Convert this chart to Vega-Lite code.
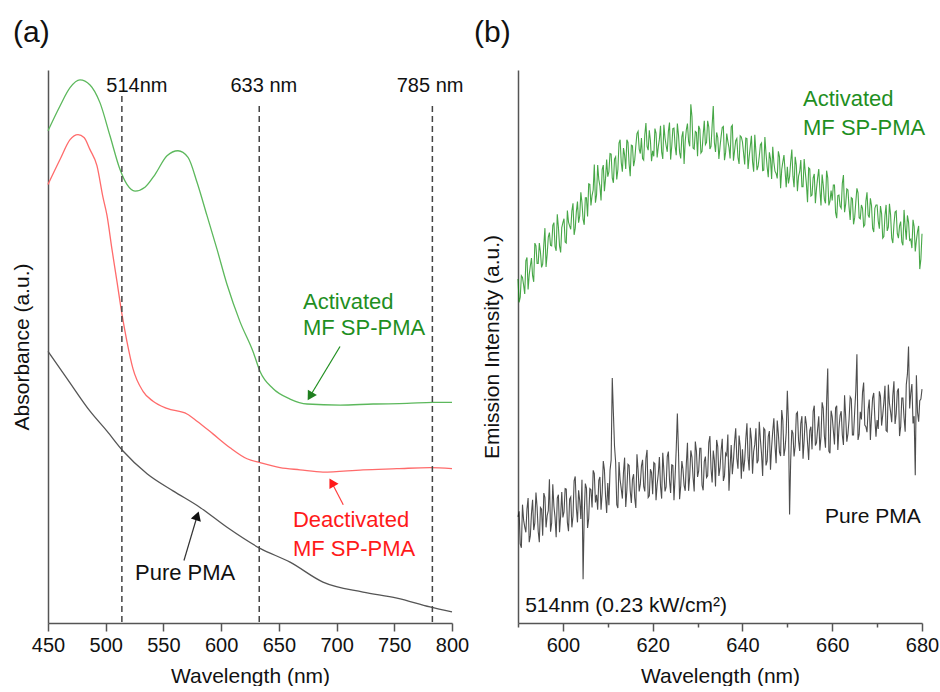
{
  "$schema": "https://vega.github.io/schema/vega-lite/v6.json",
  "padding": {"left": 11, "top": 18, "right": 5, "bottom": 0},
  "spacing": 5,
  "config": {
    "font": "Liberation Sans",
    "view": {"stroke": null},
    "axis": {
      "domainColor": "#555555", "domainWidth": 1.5, "tickColor": "#555555", "tickWidth": 1.5,
      "labelFontSize": 20, "labelColor": "#111111", "titleFontSize": 21, "titleFontWeight": "normal",
      "titleColor": "#111111", "grid": false, "labelFlush": false, "labelOverlap": false
    }
  },
  "datasets": {
    "abs": [
      {"wl":450,"a":89.0,"s":"Activated"},{"wl":460.4,"a":93.5,"s":"Activated"},{"wl":469.1,"a":96.8,"s":"Activated"},{"wl":477.7,"a":98.2,"s":"Activated"},{"wl":486.4,"a":97.3,"s":"Activated"},{"wl":495.0,"a":94.1,"s":"Activated"},{"wl":503.7,"a":88.1,"s":"Activated"},{"wl":512.4,"a":82.0,"s":"Activated"},{"wl":518.4,"a":79.3,"s":"Activated"},{"wl":525.4,"a":78.1,"s":"Activated"},{"wl":534.0,"a":78.8,"s":"Activated"},{"wl":542.7,"a":81.1,"s":"Activated"},{"wl":553.1,"a":84.5,"s":"Activated"},{"wl":562.6,"a":85.4,"s":"Activated"},{"wl":571.3,"a":84.2,"s":"Activated"},{"wl":579.1,"a":79.7,"s":"Activated"},{"wl":587.7,"a":73.7,"s":"Activated"},{"wl":596.4,"a":67.6,"s":"Activated"},{"wl":605.1,"a":61.2,"s":"Activated"},{"wl":616.3,"a":54.5,"s":"Activated"},{"wl":627.6,"a":49.1,"s":"Activated"},{"wl":633.7,"a":45.5,"s":"Activated"},{"wl":644.9,"a":42.4,"s":"Activated"},{"wl":659.7,"a":40.5,"s":"Activated"},{"wl":674.4,"a":39.6,"s":"Activated"},{"wl":703.0,"a":39.4,"s":"Activated"},{"wl":731.6,"a":39.6,"s":"Activated"},{"wl":761.0,"a":39.7,"s":"Activated"},{"wl":783.5,"a":39.9,"s":"Activated"},{"wl":800,"a":39.9,"s":"Activated"},
      {"wl":450,"a":79.3,"s":"Deactivated"},{"wl":460.4,"a":83.8,"s":"Deactivated"},{"wl":469.1,"a":87.4,"s":"Deactivated"},{"wl":476.0,"a":88.3,"s":"Deactivated"},{"wl":481.2,"a":87.8,"s":"Deactivated"},{"wl":486.4,"a":85.6,"s":"Deactivated"},{"wl":492.4,"a":82.7,"s":"Deactivated"},{"wl":497.6,"a":77.0,"s":"Deactivated"},{"wl":501.1,"a":73.7,"s":"Deactivated"},{"wl":505.4,"a":67.6,"s":"Deactivated"},{"wl":509.8,"a":61.7,"s":"Deactivated"},{"wl":514.1,"a":55.8,"s":"Deactivated"},{"wl":518.4,"a":50.9,"s":"Deactivated"},{"wl":523.6,"a":46.0,"s":"Deactivated"},{"wl":532.3,"a":41.9,"s":"Deactivated"},{"wl":541.0,"a":40.1,"s":"Deactivated"},{"wl":553.1,"a":38.8,"s":"Deactivated"},{"wl":570.4,"a":37.8,"s":"Deactivated"},{"wl":579.1,"a":36.5,"s":"Deactivated"},{"wl":592.9,"a":34.2,"s":"Deactivated"},{"wl":607.7,"a":31.7,"s":"Deactivated"},{"wl":622.4,"a":29.7,"s":"Deactivated"},{"wl":633.7,"a":29.0,"s":"Deactivated"},{"wl":651.0,"a":28.1,"s":"Deactivated"},{"wl":668.3,"a":27.7,"s":"Deactivated"},{"wl":688.2,"a":27.3,"s":"Deactivated"},{"wl":722.9,"a":27.7,"s":"Deactivated"},{"wl":752.3,"a":27.9,"s":"Deactivated"},{"wl":780.9,"a":28.1,"s":"Deactivated"},{"wl":800,"a":27.9,"s":"Deactivated"},
      {"wl":450,"a":49.1,"s":"Pure"},{"wl":466.5,"a":44.2,"s":"Pure"},{"wl":486.4,"a":38.3,"s":"Pure"},{"wl":501.1,"a":34.7,"s":"Pure"},{"wl":515.0,"a":31.1,"s":"Pure"},{"wl":535.8,"a":27.0,"s":"Pure"},{"wl":558.3,"a":23.9,"s":"Pure"},{"wl":581.7,"a":20.9,"s":"Pure"},{"wl":605.1,"a":17.3,"s":"Pure"},{"wl":633.7,"a":13.5,"s":"Pure"},{"wl":659.7,"a":11.0,"s":"Pure"},{"wl":688.2,"a":7.4,"s":"Pure"},{"wl":722.9,"a":5.6,"s":"Pure"},{"wl":752.3,"a":4.5,"s":"Pure"},{"wl":780.9,"a":2.9,"s":"Pure"},{"wl":800,"a":2.0,"s":"Pure"}
    ],
    "emG": [
      {"x":590.0,"y":62.2},{"x":590.5,"y":58.9},{"x":591.0,"y":62.5},{"x":591.5,"y":59.5},{"x":592.0,"y":66.1},{"x":592.5,"y":63.0},{"x":593.0,"y":66.0},{"x":593.5,"y":61.7},{"x":594.0,"y":68.2},{"x":594.5,"y":65.0},
      {"x":595.0,"y":67.1},{"x":595.5,"y":64.9},{"x":596.0,"y":71.4},{"x":596.5,"y":66.7},{"x":597.0,"y":70.6},{"x":597.5,"y":68.2},{"x":598.0,"y":72.4},{"x":598.5,"y":67.3},{"x":599.0,"y":71.6},{"x":599.5,"y":67.0},
      {"x":600.0,"y":72.4},{"x":600.5,"y":68.9},{"x":601.0,"y":74.6},{"x":601.5,"y":71.8},{"x":602.0,"y":74.5},{"x":602.5,"y":70.2},{"x":603.0,"y":74.4},{"x":603.5,"y":72.4},{"x":604.0,"y":77.9},{"x":604.5,"y":73.0},
      {"x":605.0,"y":76.9},{"x":605.5,"y":73.5},{"x":606.0,"y":79.3},{"x":606.5,"y":77.3},{"x":607.0,"y":82.9},{"x":607.5,"y":77.4},{"x":608.0,"y":80.2},{"x":608.5,"y":76.4},{"x":609.0,"y":82.8},{"x":609.5,"y":80.4},
      {"x":610.0,"y":80.7},{"x":610.5,"y":84.9},{"x":611.0,"y":80.5},{"x":611.5,"y":83.9},{"x":612.0,"y":80.2},{"x":612.5,"y":86.8},{"x":613.0,"y":83.3},{"x":613.5,"y":85.9},{"x":614.0,"y":82.1},{"x":614.5,"y":86.9},
      {"x":615.0,"y":80.8},{"x":615.5,"y":86.3},{"x":616.0,"y":83.7},{"x":616.5,"y":88.5},{"x":617.0,"y":85.7},{"x":617.5,"y":87.7},{"x":618.0,"y":83.7},{"x":618.5,"y":90.4},{"x":619.0,"y":85.5},{"x":619.5,"y":87.2},
      {"x":620.0,"y":85.4},{"x":620.5,"y":89.4},{"x":621.0,"y":84.2},{"x":621.5,"y":87.5},{"x":622.0,"y":85.2},{"x":622.5,"y":90.1},{"x":623.0,"y":86.3},{"x":623.5,"y":88.9},{"x":624.0,"y":83.8},{"x":624.5,"y":89.4},
      {"x":625.0,"y":86.2},{"x":625.5,"y":90.3},{"x":626.0,"y":85.1},{"x":626.5,"y":87.9},{"x":627.0,"y":83.0},{"x":627.5,"y":89.2},{"x":628.0,"y":87.1},{"x":628.5,"y":93.8},{"x":629.0,"y":85.9},{"x":629.5,"y":88.9},
      {"x":630.0,"y":84.4},{"x":630.5,"y":89.3},{"x":631.0,"y":85.3},{"x":631.5,"y":90.8},{"x":632.0,"y":86.9},{"x":632.5,"y":89.7},{"x":633.0,"y":86.2},{"x":633.5,"y":93.5},{"x":634.0,"y":85.2},{"x":634.5,"y":87.8},
      {"x":635.0,"y":86.1},{"x":635.5,"y":89.6},{"x":636.0,"y":83.7},{"x":636.5,"y":88.5},{"x":637.0,"y":86.0},{"x":637.5,"y":89.7},{"x":638.0,"y":83.6},{"x":638.5,"y":87.2},{"x":639.0,"y":84.2},{"x":639.5,"y":88.1},
      {"x":640.0,"y":87.0},{"x":640.5,"y":82.9},{"x":641.0,"y":87.6},{"x":641.5,"y":84.3},{"x":642.0,"y":88.1},{"x":642.5,"y":81.6},{"x":643.0,"y":85.2},{"x":643.5,"y":82.6},{"x":644.0,"y":86.5},{"x":644.5,"y":81.8},
      {"x":645.0,"y":87.9},{"x":645.5,"y":82.5},{"x":646.0,"y":85.1},{"x":646.5,"y":80.3},{"x":647.0,"y":83.3},{"x":647.5,"y":81.3},{"x":648.0,"y":85.3},{"x":648.5,"y":78.6},{"x":649.0,"y":83.4},{"x":649.5,"y":81.7},
      {"x":650.0,"y":82.5},{"x":650.5,"y":80.7},{"x":651.0,"y":85.6},{"x":651.5,"y":78.8},{"x":652.0,"y":82.8},{"x":652.5,"y":80.8},{"x":653.0,"y":83.7},{"x":653.5,"y":78.9},{"x":654.0,"y":81.5},{"x":654.5,"y":76.1},
      {"x":655.0,"y":82.1},{"x":655.5,"y":77.4},{"x":656.0,"y":81.2},{"x":656.5,"y":78.6},{"x":657.0,"y":82.1},{"x":657.5,"y":75.5},{"x":658.0,"y":79.2},{"x":658.5,"y":75.9},{"x":659.0,"y":80.5},{"x":659.5,"y":76.3},
      {"x":660.0,"y":76.4},{"x":660.5,"y":79.2},{"x":661.0,"y":73.2},{"x":661.5,"y":77.4},{"x":662.0,"y":75.0},{"x":662.5,"y":81.0},{"x":663.0,"y":75.8},{"x":663.5,"y":78.3},{"x":664.0,"y":72.9},{"x":664.5,"y":76.7},
      {"x":665.0,"y":73.3},{"x":665.5,"y":78.6},{"x":666.0,"y":73.3},{"x":666.5,"y":75.6},{"x":667.0,"y":71.7},{"x":667.5,"y":76.3},{"x":668.0,"y":73.8},{"x":668.5,"y":76.8},{"x":669.0,"y":71.4},{"x":669.5,"y":75.0},
      {"x":670.0,"y":75.6},{"x":670.5,"y":71.3},{"x":671.0,"y":74.0},{"x":671.5,"y":69.9},{"x":672.0,"y":75.6},{"x":672.5,"y":71.6},{"x":673.0,"y":73.8},{"x":673.5,"y":68.7},{"x":674.0,"y":74.3},{"x":674.5,"y":70.4},
      {"x":675.0,"y":71.8},{"x":675.5,"y":68.9},{"x":676.0,"y":74.7},{"x":676.5,"y":69.3},{"x":677.0,"y":72.5},{"x":677.5,"y":69.4},{"x":678.0,"y":72.9},{"x":678.5,"y":67.2},{"x":679.0,"y":70.8},{"x":679.5,"y":64.0},
      {"x":680.0,"y":70.4},
      {"x":590.25,"y":58.0},{"x":590.75,"y":62.8},{"x":591.25,"y":61.1},{"x":591.75,"y":65.5},{"x":592.25,"y":60.3},{"x":592.75,"y":64.6},{"x":593.25,"y":62.8},{"x":593.75,"y":68.7},{"x":594.25,"y":65.0},{"x":594.75,"y":68.7},
      {"x":595.25,"y":64.3},{"x":595.75,"y":68.4},{"x":596.25,"y":64.4},{"x":596.75,"y":69.8},{"x":597.25,"y":68.3},{"x":597.75,"y":71.9},{"x":598.25,"y":68.1},{"x":598.75,"y":73.9},{"x":599.25,"y":68.2},{"x":599.75,"y":71.5},
      {"x":600.25,"y":73.1},{"x":600.75,"y":68.7},{"x":601.25,"y":72.5},{"x":601.75,"y":71.2},{"x":602.25,"y":75.9},{"x":602.75,"y":71.4},{"x":603.25,"y":76.2},{"x":603.75,"y":73.6},{"x":604.25,"y":76.0},{"x":604.75,"y":72.0},
      {"x":605.25,"y":76.9},{"x":605.75,"y":79.4},{"x":606.25,"y":75.5},{"x":606.75,"y":78.3},{"x":607.25,"y":76.0},{"x":607.75,"y":82.8},{"x":608.25,"y":79.0},{"x":608.75,"y":82.0},{"x":609.25,"y":78.1},{"x":609.75,"y":83.8},
      {"x":610.25,"y":81.6},{"x":610.75,"y":84.8},{"x":611.25,"y":79.6},{"x":611.75,"y":84.3},{"x":612.25,"y":82.0},{"x":612.75,"y":87.4},{"x":613.25,"y":81.6},{"x":613.75,"y":84.6},{"x":614.25,"y":87.4},{"x":614.75,"y":83.0},
      {"x":615.25,"y":86.4},{"x":615.75,"y":82.6},{"x":616.25,"y":86.3},{"x":616.75,"y":88.9},{"x":617.25,"y":84.9},{"x":617.75,"y":84.0},{"x":618.25,"y":88.3},{"x":618.75,"y":86.2},{"x":619.25,"y":89.1},{"x":619.75,"y":83.5},
      {"x":620.25,"y":84.4},{"x":620.75,"y":88.6},{"x":621.25,"y":86.1},{"x":621.75,"y":89.9},{"x":622.25,"y":83.9},{"x":622.75,"y":87.7},{"x":623.25,"y":85.2},{"x":623.75,"y":90.5},{"x":624.25,"y":86.2},{"x":624.75,"y":89.5},
      {"x":625.25,"y":84.6},{"x":625.75,"y":88.3},{"x":626.25,"y":84.0},{"x":626.75,"y":88.9},{"x":627.25,"y":87.1},{"x":627.75,"y":90.3},{"x":628.25,"y":86.2},{"x":628.75,"y":91.6},{"x":629.25,"y":85.7},{"x":629.75,"y":88.7},
      {"x":630.25,"y":89.9},{"x":630.75,"y":85.0},{"x":631.25,"y":88.3},{"x":631.75,"y":86.5},{"x":632.25,"y":90.8},{"x":632.75,"y":85.7},{"x":633.25,"y":90.0},{"x":633.75,"y":86.9},{"x":634.25,"y":88.7},{"x":634.75,"y":83.9},
      {"x":635.25,"y":88.0},{"x":635.75,"y":89.8},{"x":636.25,"y":85.1},{"x":636.75,"y":87.1},{"x":637.25,"y":84.0},{"x":637.75,"y":90.0},{"x":638.25,"y":85.4},{"x":638.75,"y":87.6},{"x":639.25,"y":83.0},{"x":639.75,"y":87.9},
      {"x":640.25,"y":85.0},{"x":640.75,"y":87.7},{"x":641.25,"y":82.1},{"x":641.75,"y":86.2},{"x":642.25,"y":83.4},{"x":642.75,"y":88.3},{"x":643.25,"y":81.9},{"x":643.75,"y":84.4},{"x":644.25,"y":86.8},{"x":644.75,"y":81.9},
      {"x":645.25,"y":84.9},{"x":645.75,"y":80.6},{"x":646.25,"y":83.9},{"x":646.75,"y":86.1},{"x":647.25,"y":81.7},{"x":647.75,"y":80.4},{"x":648.25,"y":84.3},{"x":648.75,"y":82.0},{"x":649.25,"y":84.6},{"x":649.75,"y":78.8},
      {"x":650.25,"y":79.5},{"x":650.75,"y":83.4},{"x":651.25,"y":80.8},{"x":651.75,"y":84.3},{"x":652.25,"y":78.1},{"x":652.75,"y":81.6},{"x":653.25,"y":78.9},{"x":653.75,"y":83.9},{"x":654.25,"y":79.4},{"x":654.75,"y":82.3},
      {"x":655.25,"y":77.2},{"x":655.75,"y":80.5},{"x":656.25,"y":75.9},{"x":656.75,"y":80.5},{"x":657.25,"y":78.3},{"x":657.75,"y":81.1},{"x":658.25,"y":76.6},{"x":658.75,"y":81.8},{"x":659.25,"y":75.5},{"x":659.75,"y":78.2},
      {"x":660.25,"y":79.2},{"x":660.75,"y":74.2},{"x":661.25,"y":77.3},{"x":661.75,"y":75.4},{"x":662.25,"y":79.5},{"x":662.75,"y":74.3},{"x":663.25,"y":78.5},{"x":663.75,"y":75.2},{"x":664.25,"y":76.9},{"x":664.75,"y":72.1},
      {"x":665.25,"y":76.1},{"x":665.75,"y":77.8},{"x":666.25,"y":73.1},{"x":666.75,"y":75.0},{"x":667.25,"y":72.0},{"x":667.75,"y":77.9},{"x":668.25,"y":73.3},{"x":668.75,"y":75.5},{"x":669.25,"y":70.7},{"x":669.75,"y":75.6},
      {"x":670.25,"y":72.7},{"x":670.75,"y":75.4},{"x":671.25,"y":69.6},{"x":671.75,"y":73.7},{"x":672.25,"y":70.9},{"x":672.75,"y":75.8},{"x":673.25,"y":69.6},{"x":673.75,"y":72.1},{"x":674.25,"y":74.5},{"x":674.75,"y":69.6},
      {"x":675.25,"y":72.6},{"x":675.75,"y":68.3},{"x":676.25,"y":71.6},{"x":676.75,"y":73.7},{"x":677.25,"y":69.2},{"x":677.75,"y":67.8},{"x":678.25,"y":71.7},{"x":678.75,"y":69.2},{"x":679.25,"y":71.8},{"x":679.75,"y":65.8}
    ],
    "emK": [
      {"x":590.0,"y":19.2},{"x":590.5,"y":14.3},{"x":591.0,"y":21.4},{"x":591.5,"y":17.4},{"x":592.0,"y":20.6},{"x":592.5,"y":14.6},{"x":593.0,"y":19.8},{"x":593.5,"y":16.8},{"x":594.0,"y":23.6},{"x":594.5,"y":16.6},
      {"x":595.0,"y":20.9},{"x":595.5,"y":15.8},{"x":596.0,"y":22.7},{"x":596.5,"y":19.4},{"x":597.0,"y":26.0},{"x":597.5,"y":18.1},{"x":598.0,"y":21.1},{"x":598.5,"y":15.5},{"x":599.0,"y":23.2},{"x":599.5,"y":19.4},
      {"x":600.0,"y":19.1},{"x":600.5,"y":24.3},{"x":601.0,"y":18.2},{"x":601.5,"y":22.4},{"x":602.0,"y":17.3},{"x":602.5,"y":25.7},{"x":603.0,"y":20.8},{"x":603.5,"y":24.0},{"x":604.0,"y":18.8},{"x":604.5,"y":7.9},
      {"x":605.0,"y":25.2},{"x":605.5,"y":17.2},{"x":606.0,"y":24.3},{"x":606.5,"y":20.9},{"x":607.0,"y":27.0},{"x":607.5,"y":23.2},{"x":608.0,"y":25.8},{"x":608.5,"y":20.5},{"x":609.0,"y":29.3},{"x":609.5,"y":23.0},
      {"x":610.0,"y":25.3},{"x":610.5,"y":27.6},{"x":611.0,"y":44.3},{"x":611.5,"y":32.0},{"x":612.0,"y":21.4},{"x":612.5,"y":29.1},{"x":613.0,"y":24.3},{"x":613.5,"y":27.3},{"x":614.0,"y":21.0},{"x":614.5,"y":28.7},
      {"x":615.0,"y":23.9},{"x":615.5,"y":26.0},{"x":616.0,"y":22.6},{"x":616.5,"y":30.5},{"x":617.0,"y":23.8},{"x":617.5,"y":28.4},{"x":618.0,"y":24.7},{"x":618.5,"y":29.8},{"x":619.0,"y":22.7},{"x":619.5,"y":27.8},
      {"x":620.0,"y":23.3},{"x":620.5,"y":28.8},{"x":621.0,"y":25.1},{"x":621.5,"y":30.0},{"x":622.0,"y":22.5},{"x":622.5,"y":27.5},{"x":623.0,"y":24.6},{"x":623.5,"y":31.0},{"x":624.0,"y":23.5},{"x":624.5,"y":28.5},
      {"x":625.0,"y":26.5},{"x":625.5,"y":37.9},{"x":626.0,"y":22.4},{"x":626.5,"y":29.3},{"x":627.0,"y":24.9},{"x":627.5,"y":28.8},{"x":628.0,"y":23.9},{"x":628.5,"y":31.2},{"x":629.0,"y":26.3},{"x":629.5,"y":32.8},
      {"x":630.0,"y":26.4},{"x":630.5,"y":31.6},{"x":631.0,"y":24.9},{"x":631.5,"y":29.2},{"x":632.0,"y":26.3},{"x":632.5,"y":32.6},{"x":633.0,"y":27.9},{"x":633.5,"y":31.2},{"x":634.0,"y":24.7},{"x":634.5,"y":31.9},
      {"x":635.0,"y":28.0},{"x":635.5,"y":33.3},{"x":636.0,"y":26.6},{"x":636.5,"y":30.3},{"x":637.0,"y":23.9},{"x":637.5,"y":32.2},{"x":638.0,"y":29.4},{"x":638.5,"y":35.2},{"x":639.0,"y":27.9},{"x":639.5,"y":31.9},
      {"x":640.0,"y":31.4},{"x":640.5,"y":29.4},{"x":641.0,"y":36.1},{"x":641.5,"y":27.6},{"x":642.0,"y":33.2},{"x":642.5,"y":31.0},{"x":643.0,"y":35.2},{"x":643.5,"y":29.4},{"x":644.0,"y":33.2},{"x":644.5,"y":26.6},
      {"x":645.0,"y":34.9},{"x":645.5,"y":29.3},{"x":646.0,"y":34.7},{"x":646.5,"y":31.8},{"x":647.0,"y":37.0},{"x":647.5,"y":28.9},{"x":648.0,"y":34.2},{"x":648.5,"y":30.2},{"x":649.0,"y":36.6},{"x":649.5,"y":31.6},
      {"x":650.0,"y":42.0},{"x":650.5,"y":19.6},{"x":651.0,"y":34.9},{"x":651.5,"y":30.1},{"x":652.0,"y":37.8},{"x":652.5,"y":33.0},{"x":653.0,"y":36.1},{"x":653.5,"y":29.7},{"x":654.0,"y":37.4},{"x":654.5,"y":32.6},
      {"x":655.0,"y":34.8},{"x":655.5,"y":31.4},{"x":656.0,"y":39.3},{"x":656.5,"y":32.6},{"x":657.0,"y":37.4},{"x":657.5,"y":33.7},{"x":658.0,"y":38.8},{"x":658.5,"y":31.7},{"x":659.0,"y":46.0},{"x":659.5,"y":30.7},
      {"x":660.0,"y":37.3},{"x":660.5,"y":32.3},{"x":661.0,"y":39.3},{"x":661.5,"y":35.2},{"x":662.0,"y":38.3},{"x":662.5,"y":32.2},{"x":663.0,"y":37.3},{"x":663.5,"y":34.2},{"x":664.0,"y":40.9},{"x":664.5,"y":34.0},
      {"x":665.0,"y":38.2},{"x":665.5,"y":48.6},{"x":666.0,"y":34.1},{"x":666.5,"y":36.8},{"x":667.0,"y":43.5},{"x":667.5,"y":35.5},{"x":668.0,"y":38.6},{"x":668.5,"y":33.1},{"x":669.0,"y":40.7},{"x":669.5,"y":37.0},
      {"x":670.0,"y":36.7},{"x":670.5,"y":41.9},{"x":671.0,"y":35.7},{"x":671.5,"y":39.9},{"x":672.0,"y":34.8},{"x":672.5,"y":43.1},{"x":673.0,"y":38.2},{"x":673.5,"y":41.2},{"x":674.0,"y":36.0},{"x":674.5,"y":41.9},
      {"x":675.0,"y":33.8},{"x":675.5,"y":40.7},{"x":676.0,"y":37.1},{"x":676.5,"y":43.1},{"x":677.0,"y":50.0},{"x":677.5,"y":41.6},{"x":678.0,"y":36.1},{"x":678.5,"y":26.7},{"x":679.0,"y":38.1},{"x":679.5,"y":40.2},
      {"x":680.0,"y":42.3},
      {"x":590.25,"y":20.2},{"x":590.75,"y":13.6},{"x":591.25,"y":18.6},{"x":591.75,"y":16.4},{"x":592.25,"y":22.6},{"x":592.75,"y":15.8},{"x":593.25,"y":22.3},{"x":593.75,"y":18.1},{"x":594.25,"y":21.0},{"x":594.75,"y":14.6},
      {"x":595.25,"y":20.6},{"x":595.75,"y":23.5},{"x":596.25,"y":17.3},{"x":596.75,"y":20.3},{"x":597.25,"y":16.5},{"x":597.75,"y":25.1},{"x":598.25,"y":19.1},{"x":598.75,"y":22.6},{"x":599.25,"y":16.4},{"x":599.75,"y":23.7},
      {"x":600.25,"y":20.1},{"x":600.75,"y":24.2},{"x":601.25,"y":16.6},{"x":601.75,"y":22.8},{"x":602.25,"y":19.3},{"x":602.75,"y":26.5},{"x":603.25,"y":18.2},{"x":603.75,"y":22.1},{"x":604.25,"y":25.9},{"x":604.75,"y":19.6},
      {"x":605.25,"y":24.4},{"x":605.75,"y":18.9},{"x":606.25,"y":24.1},{"x":606.75,"y":27.6},{"x":607.25,"y":21.8},{"x":607.75,"y":20.5},{"x":608.25,"y":26.4},{"x":608.75,"y":23.5},{"x":609.25,"y":27.7},{"x":609.75,"y":19.9},
      {"x":610.25,"y":21.3},{"x":610.75,"y":29.5},{"x":611.25,"y":38.0},{"x":611.75,"y":29.1},{"x":612.25,"y":20.8},{"x":612.75,"y":25.9},{"x":613.25,"y":22.5},{"x":613.75,"y":29.9},{"x":614.25,"y":24.0},{"x":614.75,"y":28.5},
      {"x":615.25,"y":21.7},{"x":615.75,"y":26.9},{"x":616.25,"y":20.8},{"x":616.75,"y":27.7},{"x":617.25,"y":25.1},{"x":617.75,"y":29.5},{"x":618.25,"y":23.8},{"x":618.75,"y":31.3},{"x":619.25,"y":23.0},{"x":619.75,"y":27.2},
      {"x":620.25,"y":29.0},{"x":620.75,"y":22.2},{"x":621.25,"y":27.0},{"x":621.75,"y":24.7},{"x":622.25,"y":30.8},{"x":622.75,"y":23.8},{"x":623.25,"y":30.1},{"x":623.75,"y":25.8},{"x":624.25,"y":28.6},{"x":624.75,"y":22.2},
      {"x":625.25,"y":31.5},{"x":625.75,"y":31.0},{"x":626.25,"y":24.8},{"x":626.75,"y":27.8},{"x":627.25,"y":23.9},{"x":627.75,"y":32.6},{"x":628.25,"y":26.5},{"x":628.75,"y":30.0},{"x":629.25,"y":23.8},{"x":629.75,"y":31.1},
      {"x":630.25,"y":27.5},{"x":630.75,"y":31.6},{"x":631.25,"y":24.0},{"x":631.75,"y":30.1},{"x":632.25,"y":26.6},{"x":632.75,"y":33.8},{"x":633.25,"y":25.4},{"x":633.75,"y":29.4},{"x":634.25,"y":33.1},{"x":634.75,"y":26.6},
      {"x":635.25,"y":31.2},{"x":635.75,"y":25.7},{"x":636.25,"y":30.7},{"x":636.75,"y":34.1},{"x":637.25,"y":28.3},{"x":637.75,"y":26.9},{"x":638.25,"y":32.8},{"x":638.75,"y":29.8},{"x":639.25,"y":33.9},{"x":639.75,"y":26.1},
      {"x":640.25,"y":27.4},{"x":640.75,"y":33.3},{"x":641.25,"y":29.9},{"x":641.75,"y":35.3},{"x":642.25,"y":27.0},{"x":642.75,"y":32.3},{"x":643.25,"y":28.9},{"x":643.75,"y":36.4},{"x":644.25,"y":30.6},{"x":644.75,"y":35.2},
      {"x":645.25,"y":28.5},{"x":645.75,"y":33.7},{"x":646.25,"y":27.7},{"x":646.75,"y":34.7},{"x":647.25,"y":32.1},{"x":647.75,"y":36.6},{"x":648.25,"y":30.9},{"x":648.75,"y":38.5},{"x":649.25,"y":30.2},{"x":649.75,"y":34.4},
      {"x":650.25,"y":36.2},{"x":650.75,"y":29.5},{"x":651.25,"y":34.3},{"x":651.75,"y":32.0},{"x":652.25,"y":38.1},{"x":652.75,"y":31.1},{"x":653.25,"y":37.4},{"x":653.75,"y":33.1},{"x":654.25,"y":35.9},{"x":654.75,"y":29.5},
      {"x":655.25,"y":35.5},{"x":655.75,"y":38.3},{"x":656.25,"y":32.1},{"x":656.75,"y":35.1},{"x":657.25,"y":31.2},{"x":657.75,"y":39.9},{"x":658.25,"y":33.8},{"x":658.75,"y":40.0},{"x":659.25,"y":31.1},{"x":659.75,"y":38.4},
      {"x":660.25,"y":34.8},{"x":660.75,"y":38.9},{"x":661.25,"y":31.3},{"x":661.75,"y":37.5},{"x":662.25,"y":34.0},{"x":662.75,"y":41.2},{"x":663.25,"y":32.8},{"x":663.75,"y":36.8},{"x":664.25,"y":40.5},{"x":664.75,"y":34.0},
      {"x":665.25,"y":42.0},{"x":665.75,"y":33.1},{"x":666.25,"y":38.2},{"x":666.75,"y":41.7},{"x":667.25,"y":35.8},{"x":667.75,"y":34.5},{"x":668.25,"y":40.4},{"x":668.75,"y":37.4},{"x":669.25,"y":41.6},{"x":669.75,"y":33.7},
      {"x":670.25,"y":35.1},{"x":670.75,"y":41.0},{"x":671.25,"y":37.6},{"x":671.75,"y":42.9},{"x":672.25,"y":34.6},{"x":672.75,"y":39.7},{"x":673.25,"y":36.3},{"x":673.75,"y":43.7},{"x":674.25,"y":37.8},{"x":674.75,"y":42.4},
      {"x":675.25,"y":35.5},{"x":675.75,"y":40.7},{"x":676.25,"y":34.6},{"x":676.75,"y":45.0},{"x":677.25,"y":38.8},{"x":677.75,"y":43.2},{"x":678.25,"y":37.4},{"x":678.75,"y":44.8},{"x":679.25,"y":36.4},{"x":679.75,"y":40.5}
    ]
  },
  "hconcat": [
    {
      "width": 404,
      "height": 553,
      "title": {"text": "(a)", "anchor": "start", "frame": "group", "fontSize": 30, "fontWeight": "normal", "dx": -35, "offset": 22, "color": "#111111"},
      "layer": [
        {
          "data": {"name": "abs"},
          "mark": {"type": "line", "strokeWidth": 1.3, "interpolate": "monotone"},
          "encoding": {
            "x": {"field": "wl", "type": "quantitative", "scale": {"domain": [450, 800], "nice": false, "zero": false},
              "axis": {"values": [450,475,500,525,550,575,600,625,650,675,700,725,750,775,800],
                "labelExpr": "datum.value % 50 === 0 ? datum.label : ''",
                "tickSize": {"condition": {"test": "datum.value % 50 === 0", "value": 8}, "value": 4},
                "labelPadding": 4, "title": "Wavelength (nm)", "titlePadding": 10}},
            "y": {"field": "a", "type": "quantitative", "scale": {"domain": [0, 100], "nice": false},
              "axis": {"ticks": false, "labels": false, "title": "Absorbance (a.u.)", "titlePadding": 16}},
            "color": {"field": "s", "type": "nominal", "scale": {"domain": ["Activated", "Deactivated", "Pure"], "range": ["#5cb85c", "#ff6b6b", "#555555"]}, "legend": null}
          }
        },
        {
          "data": {"values": [{"wl": 514, "top": 95.3}, {"wl": 633, "top": 93.5}, {"wl": 783, "top": 93.5}]},
          "mark": {"type": "rule", "strokeDash": [6, 4], "color": "#444444", "strokeWidth": 1.5},
          "encoding": {"x": {"field": "wl", "type": "quantitative"}, "y": {"field": "top", "type": "quantitative"}, "y2": {"datum": 0}}
        },
        {
          "data": {"values": [{"wl": 527, "a": 96.0, "t": "514nm"}, {"wl": 637, "a": 96.0, "t": "633 nm"}, {"wl": 781, "a": 96.0, "t": "785 nm"}]},
          "mark": {"type": "text", "align": "center", "baseline": "alphabetic", "fontSize": 20, "color": "#111111"},
          "encoding": {"x": {"field": "wl", "type": "quantitative"}, "y": {"field": "a", "type": "quantitative"}, "text": {"field": "t"}}
        },
        {
          "data": {"values": [{"wl": 670.9, "a": 56.8, "t": "Activated"}, {"wl": 670.9, "a": 52.0, "t": "MF SP-PMA"}]},
          "mark": {"type": "text", "align": "left", "baseline": "alphabetic", "fontSize": 22, "color": "#1f8f1f"},
          "encoding": {"x": {"field": "wl", "type": "quantitative"}, "y": {"field": "a", "type": "quantitative"}, "text": {"field": "t"}}
        },
        {
          "data": {"values": [{"wl": 662.2, "a": 17.3, "t": "Deactivated"}, {"wl": 662.2, "a": 12.2, "t": "MF SP-PMA"}]},
          "mark": {"type": "text", "align": "left", "baseline": "alphabetic", "fontSize": 22, "color": "#ff1a1a"},
          "encoding": {"x": {"field": "wl", "type": "quantitative"}, "y": {"field": "a", "type": "quantitative"}, "text": {"field": "t"}}
        },
        {
          "data": {"values": [{"wl": 525.4, "a": 7.7, "t": "Pure PMA"}]},
          "mark": {"type": "text", "align": "left", "baseline": "alphabetic", "fontSize": 22, "color": "#111111"},
          "encoding": {"x": {"field": "wl", "type": "quantitative"}, "y": {"field": "a", "type": "quantitative"}, "text": {"field": "t"}}
        },
        {
          "data": {"values": [{"x1": 703.0, "y1": 50.0, "x2": 677.0, "y2": 41.0}]},
          "mark": {"type": "rule", "color": "#1f8f1f", "strokeWidth": 1.2},
          "encoding": {"x": {"field": "x1", "type": "quantitative"}, "y": {"field": "y1", "type": "quantitative"}, "x2": {"field": "x2"}, "y2": {"field": "y2"}}
        },
        {
          "data": {"values": [{"x2": 677.0, "y2": 41.0}]},
          "mark": {"type": "point", "shape": "triangle-up", "filled": true, "size": 110, "angle": 211, "color": "#1f7f1f", "opacity": 1},
          "encoding": {"x": {"field": "x2", "type": "quantitative"}, "y": {"field": "y2", "type": "quantitative"}}
        },
        {
          "data": {"values": [{"x1": 705.8, "y1": 21.4, "x2": 695.8, "y2": 25.4}]},
          "mark": {"type": "rule", "color": "#ff4040", "strokeWidth": 1.2},
          "encoding": {"x": {"field": "x1", "type": "quantitative"}, "y": {"field": "y1", "type": "quantitative"}, "x2": {"field": "x2"}, "y2": {"field": "y2"}}
        },
        {
          "data": {"values": [{"x2": 695.8, "y2": 25.4}]},
          "mark": {"type": "point", "shape": "triangle-up", "filled": true, "size": 110, "angle": 330, "color": "#ff1a1a", "opacity": 1},
          "encoding": {"x": {"field": "x2", "type": "quantitative"}, "y": {"field": "y2", "type": "quantitative"}}
        },
        {
          "data": {"values": [{"x1": 567.8, "y1": 11.3, "x2": 579.3, "y2": 19.4}]},
          "mark": {"type": "rule", "color": "#333333", "strokeWidth": 1.2},
          "encoding": {"x": {"field": "x1", "type": "quantitative"}, "y": {"field": "y1", "type": "quantitative"}, "x2": {"field": "x2"}, "y2": {"field": "y2"}}
        },
        {
          "data": {"values": [{"x2": 579.3, "y2": 19.4}]},
          "mark": {"type": "point", "shape": "triangle-up", "filled": true, "size": 110, "angle": 18, "color": "#111111", "opacity": 1},
          "encoding": {"x": {"field": "x2", "type": "quantitative"}, "y": {"field": "y2", "type": "quantitative"}}
        }
      ]
    },
    {
      "width": 404,
      "height": 553,
      "title": {"text": "(b)", "anchor": "start", "frame": "group", "fontSize": 30, "fontWeight": "normal", "dx": -44, "offset": 22, "color": "#111111"},
      "layer": [
        {
          "data": {"name": "emG"},
          "mark": {"type": "line", "strokeWidth": 1.1, "color": "#0a8a0a", "opacity": 0.75},
          "encoding": {
            "x": {"field": "x", "type": "quantitative", "scale": {"domain": [590, 680], "nice": false, "zero": false},
              "axis": {"values": [590,600,610,620,630,640,650,660,670,680],
                "labelExpr": "datum.value % 20 === 0 ? datum.label : ''",
                "tickSize": {"condition": {"test": "datum.value % 20 === 0", "value": 8}, "value": 4},
                "labelPadding": 4, "title": "Wavelength (nm)", "titlePadding": 10}},
            "y": {"field": "y", "type": "quantitative", "scale": {"domain": [0, 100], "nice": false},
              "axis": {"ticks": false, "labels": false, "title": "Emission Intensity (a.u.)", "titlePadding": 16}}
          }
        },
        {
          "data": {"name": "emK"},
          "mark": {"type": "line", "strokeWidth": 1.1, "color": "#111111", "opacity": 0.75},
          "encoding": {"x": {"field": "x", "type": "quantitative"}, "y": {"field": "y", "type": "quantitative"}}
        },
        {
          "data": {"values": [{"x": 653.5, "y": 93.5, "t": "Activated"}, {"x": 653.5, "y": 88.3, "t": "MF SP-PMA"}]},
          "mark": {"type": "text", "align": "left", "baseline": "alphabetic", "fontSize": 22, "color": "#1f8f1f"},
          "encoding": {"x": {"field": "x", "type": "quantitative"}, "y": {"field": "y", "type": "quantitative"}, "text": {"field": "t"}}
        },
        {
          "data": {"values": [{"x": 658.4, "y": 18.1, "t": "Pure PMA"}, {"x": 591.6, "y": 2.0, "t": "514nm (0.23 kW/cm²)"}]},
          "mark": {"type": "text", "align": "left", "baseline": "alphabetic", "fontSize": 21, "color": "#111111"},
          "encoding": {"x": {"field": "x", "type": "quantitative"}, "y": {"field": "y", "type": "quantitative"}, "text": {"field": "t"}}
        }
      ]
    }
  ]
}
